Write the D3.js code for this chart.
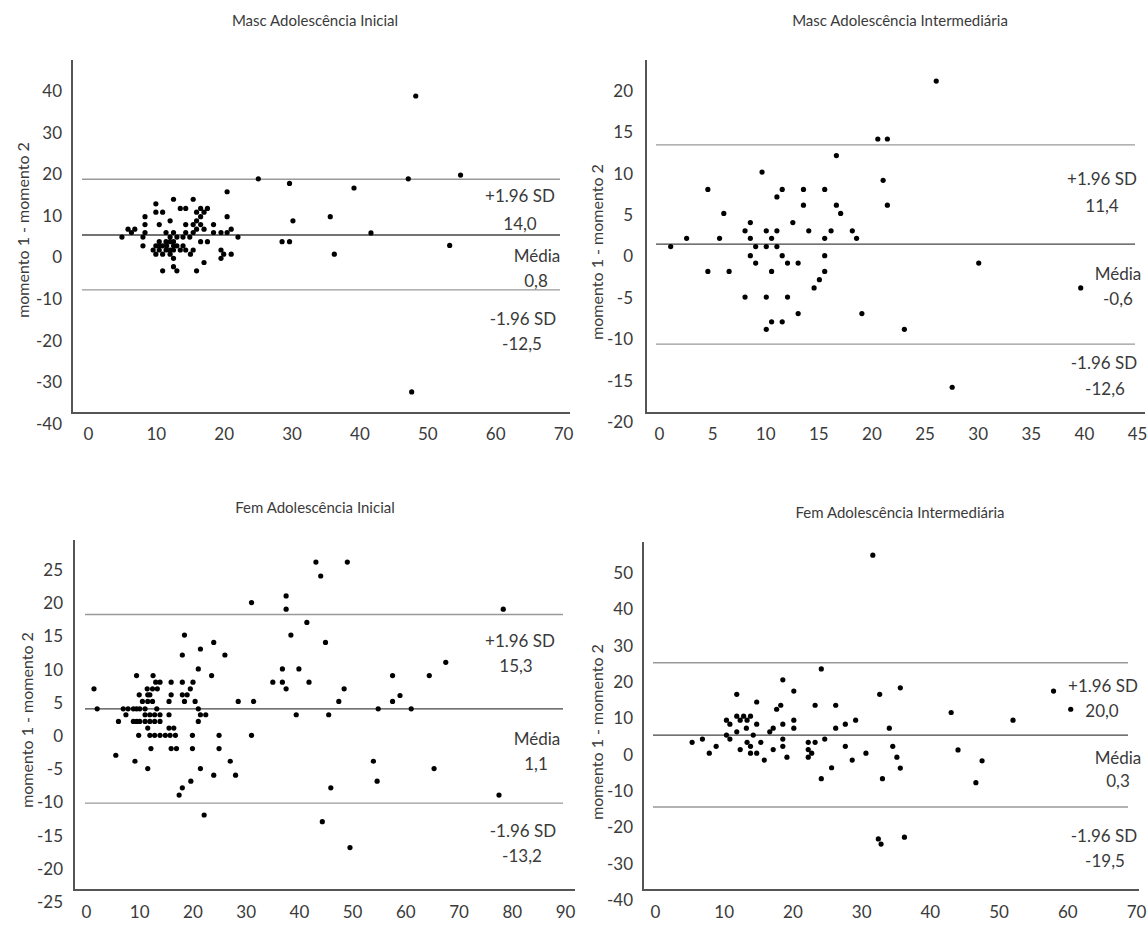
<!DOCTYPE html>
<html>
<head>
<meta charset="utf-8">
<script src="https://cdn.jsdelivr.net/npm/d3@7"></script>
<style>
  body { margin: 0; background: #fff; }
  svg text { font-family: Lato, "Open Sans", sans-serif; fill: #3a3a3a; }
</style>
</head>
<body>
<svg id="chart" width="1148" height="933"></svg>
<script>

// ---- dados: [média, diferença] ----
const mascIniPoints = [
  [5.0,4.9],[5.9,6.8],[6.4,6.0],[6.9,6.8],[8.1,4.9],[8.1,2.8],[8.4,9.8],[8.4,7.9],[8.4,6.0],
  [10.0,12.9],[10.0,10.9],[11.0,10.9],[10.5,7.9],[12.1,8.8],[12.6,14.0],[13.6,11.8],[14.4,11.8],
  [15.5,14.0],[16.0,10.9],[16.6,11.8],[17.1,10.9],[17.6,11.8],[16.6,9.8],[16.0,8.8],[15.5,7.9],
  [16.6,7.9],[14.4,7.9],[16.0,6.8],[17.1,6.8],[15.5,6.0],[14.4,6.0],[18.5,7.9],[18.5,6.0],
  [19.6,6.0],[20.5,6.0],[21.1,6.8],[20.5,9.8],[20.5,15.8],[22.1,4.9],[11.5,6.0],[12.6,6.0],
  [12.1,4.9],[13.1,4.9],[14.0,4.9],[15.0,4.9],[11.5,3.8],[12.1,3.8],[12.6,3.8],[10.5,3.8],
  [10.0,2.8],[10.5,2.8],[11.0,2.8],[11.6,2.8],[12.6,2.8],[13.1,2.8],[14.0,2.8],
  [9.6,1.8],[10.5,1.8],[11.5,1.8],[12.1,1.8],[12.6,1.8],[13.6,1.8],[14.4,1.8],[15.5,1.8],
  [10.0,0.8],[11.0,0.8],[12.1,0.8],[12.6,-0.2],[15.1,0.8],[16.6,3.8],[17.6,3.8],
  [19.6,1.8],[20.0,0.8],[21.1,0.8],[19.6,-0.2],[17.1,-1.2],[11.0,-3.2],[13.1,-3.2],[16.0,-3.2],
  [12.6,-2.2],[25.1,18.9],[29.7,17.8],[30.2,8.8],[28.6,3.8],[29.7,3.8],
  [48.3,38.8],[47.2,18.9],[54.9,19.8],[39.2,16.7],[35.7,9.8],[41.7,5.9],[36.3,0.8],
  [53.3,2.9],[47.7,-32.3]
];

const mascIntPoints = [
  [1.1,1.2],[2.6,2.2],[4.6,8.1],[4.6,-1.8],[5.7,2.2],[6.1,5.2],[6.6,-1.8],[8.1,3.1],[8.1,-4.9],
  [8.6,4.1],[8.6,2.2],[8.6,0.1],[9.1,1.2],[9.1,-0.8],[9.7,10.2],[10.1,3.1],[10.1,1.2],[10.1,-4.9],
  [10.1,-8.8],[10.6,2.2],[10.6,-1.8],[10.6,-7.9],[11.1,7.2],[11.1,3.1],[11.1,1.2],[11.6,8.1],
  [11.6,0.1],[11.6,-7.9],[12.1,-0.8],[12.1,-4.9],[12.6,4.1],[13.1,-0.8],[13.1,-6.9],[13.6,8.1],
  [13.6,6.2],[14.1,3.1],[14.6,-3.8],[15.1,-2.8],[15.6,8.1],[15.6,2.2],[15.6,0.1],[15.6,-1.8],
  [16.2,3.1],[16.7,12.2],[16.7,6.2],[17.1,5.2],[18.2,3.1],[18.6,2.2],[19.1,-6.9],
  [20.6,14.2],[21.5,14.2],[21.1,9.2],[21.5,6.2],[26.1,21.2],[30.1,-0.8],[39.7,-3.8],
  [23.1,-8.8],[27.6,-15.8]
];

const femIniPoints = [
  [1.5,7.1],[2.1,4.1],[6.1,2.2],[5.6,-2.9],[7.0,4.1],[7.9,4.1],[8.9,4.1],[9.5,4.1],[10.1,4.1],
  [11.1,4.1],[7.5,3.2],[8.9,2.2],[9.5,2.2],[10.1,2.2],[11.1,2.2],[12.0,2.2],[12.9,2.2],[13.9,2.2],
  [10.0,6.2],[9.5,9.1],[10.6,5.2],[11.6,5.2],[12.5,5.2],[11.6,6.2],[12.0,6.2],[11.5,7.1],
  [12.5,7.1],[13.4,7.1],[12.6,9.1],[13.1,8.1],[13.9,8.1],[11.1,3.2],[12.0,3.2],[12.9,3.2],
  [13.9,3.2],[11.6,1.2],[9.9,0.1],[12.0,0.1],[12.9,0.1],[13.9,0.1],[14.9,0.1],[15.8,0.1],
  [16.8,0.1],[13.3,4.1],[12.2,-1.9],[9.2,-3.8],[11.6,-4.9],[15.6,5.2],[16.0,6.2],[16.0,8.1],
  [15.6,3.2],[15.6,1.2],[16.5,1.2],[16.0,-1.9],[17.0,-1.9],[18.1,8.1],[18.1,12.2],[18.5,15.2],
  [18.1,6.2],[19.0,6.2],[18.5,5.2],[19.6,7.1],[20.1,8.1],[20.5,5.2],[21.1,4.1],[21.1,10.1],
  [21.5,13.1],[21.5,3.2],[22.5,3.2],[21.1,2.2],[20.0,0.1],[20.0,-1.9],[21.5,-4.9],[19.7,-6.8],
  [18.1,-7.8],[17.5,-8.9],[22.2,-11.9],[23.6,9.1],[24.0,14.1],[24.0,-5.9],[25.0,0.1],[25.0,-1.9],
  [26.1,12.2],[27.1,-3.8],[28.1,-5.9],[28.6,5.2],[31.1,20.1],[31.1,0.1],[31.5,5.2],[35.1,8.1],
  [36.9,10.1],[36.9,8.1],[37.6,7.1],[37.6,21.1],[37.6,19.1],[38.5,15.2],[40.0,10.1],[39.5,3.2],
  [41.5,17.1],[41.9,8.1],[43.2,26.2],[49.1,26.2],[44.1,24.1],[78.4,19.1],[45.0,14.1],[48.5,7.1],
  [47.5,5.2],[45.6,3.2],[57.6,9.1],[57.6,5.2],[59.0,6.1],[54.9,4.1],[61.1,4.1],[64.5,9.1],
  [67.6,11.1],[54.0,-3.8],[54.7,-6.8],[65.4,-4.9],[46.0,-7.8],[77.6,-8.9],[44.4,-12.9],[49.6,-16.8]
];

const femIntPoints = [
  [31.7,54.9],[5.4,3.4],[6.9,4.3],[7.9,0.4],[8.9,2.3],[10.4,9.5],[10.9,8.4],[10.4,5.4],[10.9,4.3],
  [11.9,16.6],[11.9,10.6],[12.4,9.5],[12.9,10.6],[13.4,9.5],[13.9,10.6],[11.9,6.3],[13.3,7.3],
  [14.8,14.5],[14.8,8.4],[14.3,5.4],[12.4,1.4],[13.4,3.4],[13.9,2.3],[13.9,0.4],[14.8,0.4],
  [15.4,3.4],[15.9,-1.5],[16.7,6.3],[17.2,7.3],[17.2,1.4],[17.7,12.5],[18.3,13.6],[18.6,20.6],
  [18.6,8.4],[18.6,4.3],[18.6,2.3],[19.2,-0.7],[20.2,17.5],[20.2,9.5],[20.2,7.3],[22.3,3.4],
  [23.3,3.4],[22.3,1.4],[22.8,0.4],[22.3,-0.7],[23.3,13.6],[24.2,23.6],[24.2,-6.6],[24.7,4.3],
  [25.7,-3.6],[26.3,13.6],[26.3,7.3],[27.7,8.4],[27.7,2.3],[28.7,-1.5],[29.2,9.5],[30.7,0.4],
  [32.7,16.6],[33.1,-6.6],[34.1,7.3],[35.7,18.4],[34.6,2.3],[35.2,-0.7],[35.7,-3.7],
  [43.1,11.6],[44.1,1.3],[47.6,-1.7],[46.7,-7.7],[52.1,9.5],[58.0,17.5],[60.5,12.5],
  [32.5,-23.2],[32.9,-24.6],[36.3,-22.7]
];

// linhas de concordância (posição) e rótulos
const mascIniLines = [18.8, 5.4, -7.8];
const mascIntLines = [13.5, 1.5, -10.6];
const femIniLines  = [18.3, 4.1, -10.1];
const femIntLines  = [25.3, 5.4, -14.4];

const mascIniLabels = ["+1.96 SD", "14,0", "Média", "0,8", "-1.96 SD", "-12,5"];
const mascIntLabels = ["+1.96 SD", "11,4", "Média", "-0,6", "-1.96 SD", "-12,6"];
const femIniLabels  = ["+1.96 SD", "15,3", "Média", "1,1", "-1.96 SD", "-13,2"];
const femIntLabels  = ["+1.96 SD", "20,0", "Média", "0,3", "-1.96 SD", "-19,5"];

// ticks
const mascIniXTicks = d3.range(0, 71, 10);
const mascIniYTicks = d3.range(-40, 41, 10);
const mascIntXTicks = d3.range(0, 46, 5);
const mascIntYTicks = d3.range(-20, 21, 5);
const femIniXTicks  = d3.range(0, 91, 10);
const femIniYTicks  = d3.range(-25, 26, 5);
const femIntXTicks  = d3.range(0, 71, 10);
const femIntYTicks  = d3.range(-40, 51, 10);

const yTitle = "momento 1 - momento 2";

// ---- layout ----
const panels = [
  {
    title: "Masc Adolescência Inicial", titleX: 315, titleY: 20,
    points: mascIniPoints, lines: mascIniLines, labels: mascIniLabels,
    xTicks: mascIniXTicks, yTicks: mascIniYTicks,
    xDomain: [0, 70], xRange: [88, 563],
    yDomain: [-40, 40], yRange: [424, 91],
    axisX: 72, axisTop: 60, axisBottom: 413, axisRight: 570,
    lineX0: 82, lineX1: 560,
    yTickX: 62, xTickY: 437, yTitleX: 22, yTitleY: 230,
    labelPos: [[520,195],[520,223],[537,255],[536,280],[523,318],[522,343]]
  },
  {
    title: "Masc Adolescência Intermediária", titleX: 900, titleY: 20,
    points: mascIntPoints, lines: mascIntLines, labels: mascIntLabels,
    xTicks: mascIntXTicks, yTicks: mascIntYTicks,
    xDomain: [0, 45], xRange: [659, 1137],
    yDomain: [-20, 20], yRange: [422, 91],
    axisX: 646, axisTop: 60, axisBottom: 413, axisRight: 1145,
    lineX0: 656, lineX1: 1135,
    yTickX: 633, xTickY: 437, yTitleX: 596, yTitleY: 252,
    labelPos: [[1102,178],[1102,205],[1118,273],[1118,298],[1104,362],[1105,388]]
  },
  {
    title: "Fem Adolescência Inicial", titleX: 315, titleY: 507,
    points: femIniPoints, lines: femIniLines, labels: femIniLabels,
    xTicks: femIniXTicks, yTicks: femIniYTicks,
    xDomain: [0, 90], xRange: [86, 565],
    yDomain: [-25, 25], yRange: [902, 570],
    axisX: 74, axisTop: 540, axisBottom: 890, axisRight: 575,
    lineX0: 85, lineX1: 563,
    yTickX: 63, xTickY: 915, yTitleX: 26, yTitleY: 720,
    labelPos: [[520,640],[516,665],[537,738],[536,763],[523,830],[522,855]]
  },
  {
    title: "Fem Adolescência Intermediária", titleX: 900, titleY: 512,
    points: femIntPoints, lines: femIntLines, labels: femIntLabels,
    xTicks: femIntXTicks, yTicks: femIntYTicks,
    xDomain: [0, 70], xRange: [655, 1136],
    yDomain: [-40, 50], yRange: [900, 573],
    axisX: 643, axisTop: 542, axisBottom: 890, axisRight: 1139,
    lineX0: 653, lineX1: 1128,
    yTickX: 633, xTickY: 915, yTitleX: 596, yTitleY: 732,
    labelPos: [[1103,685],[1102,710],[1118,757],[1118,780],[1104,835],[1105,860]]
  }
];

const svg = d3.select("#chart");

panels.forEach(p => {

  const x = d3.scaleLinear().domain(p.xDomain).range(p.xRange);
  const y = d3.scaleLinear().domain(p.yDomain).range(p.yRange);

  const g = svg.append("g");

  // título
  g.append("text")
    .attr("x", p.titleX)
    .attr("y", p.titleY)
    .attr("text-anchor", "middle")
    .attr("dominant-baseline", "central")
    .style("font-size", "15px")
    .text(p.title);

  // eixo y (só rótulos)
  const yAxis = g.append("g")
    .attr("transform", `translate(${p.yTickX},0)`)
    .call(d3.axisLeft(y).tickValues(p.yTicks).tickSize(0).tickPadding(0)
      .tickFormat(d => d));
  yAxis.select(".domain").remove();
  yAxis.selectAll("text")
    .style("font-size", "17px")
    .style("font-family", "Lato, sans-serif")
    .attr("fill", "#3a3a3a");

  // eixo x (só rótulos)
  const xAxis = g.append("g")
    .attr("transform", `translate(0,${p.xTickY - 9})`)
    .call(d3.axisBottom(x).tickValues(p.xTicks).tickSize(0).tickPadding(0));
  xAxis.select(".domain").remove();
  xAxis.selectAll("text")
    .style("font-size", "17px")
    .style("font-family", "Lato, sans-serif")
    .attr("fill", "#3a3a3a");

  // linhas dos eixos
  g.append("line")
    .attr("x1", p.axisX).attr("x2", p.axisX)
    .attr("y1", p.axisTop).attr("y2", p.axisBottom)
    .attr("stroke", "#555").attr("stroke-width", 2);
  g.append("line")
    .attr("x1", p.axisX - 1).attr("x2", p.axisRight)
    .attr("y1", p.axisBottom).attr("y2", p.axisBottom)
    .attr("stroke", "#555").attr("stroke-width", 2);

  // título do eixo y
  g.append("text")
    .attr("transform", `translate(${p.yTitleX},${p.yTitleY}) rotate(-90)`)
    .attr("text-anchor", "middle")
    .attr("dominant-baseline", "central")
    .style("font-size", "16px")
    .text(yTitle);

  // linhas média / ±1.96 SD
  g.selectAll("line.lim")
    .data(p.lines)
    .enter()
    .append("line")
    .attr("class", "lim")
    .attr("x1", p.lineX0).attr("x2", p.lineX1)
    .attr("y1", d => y(d)).attr("y2", d => y(d))
    .attr("stroke", (d, i) => i === 1 ? "#444" : "#999")
    .attr("stroke-width", 1.3);

  // pontos
  g.selectAll("circle")
    .data(p.points)
    .enter()
    .append("circle")
    .attr("cx", d => x(d[0]))
    .attr("cy", d => y(d[1]))
    .attr("r", 2.6)
    .attr("fill", "#000");

  // rótulos das linhas
  g.selectAll("text.lab")
    .data(p.labels)
    .enter()
    .append("text")
    .attr("class", "lab")
    .attr("x", (d, i) => p.labelPos[i][0])
    .attr("y", (d, i) => p.labelPos[i][1])
    .attr("text-anchor", "middle")
    .attr("dominant-baseline", "central")
    .style("font-size", "17px")
    .text(d => d);

});

</script>
</body>
</html>
